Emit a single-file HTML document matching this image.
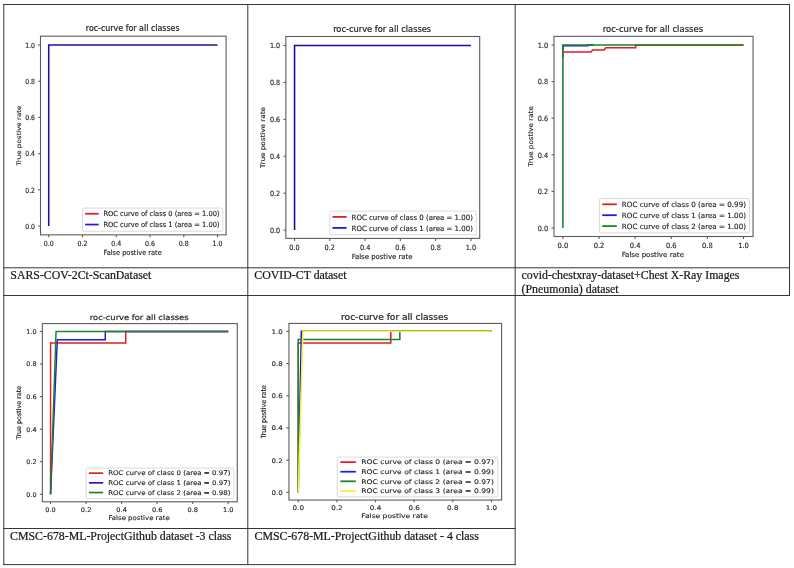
<!DOCTYPE html>
<html lang="en"><head><meta charset="utf-8"><title>roc-curve for all classes</title>
<style>
html,body{margin:0;padding:0;background:#fff;}
body{width:794px;height:568px;overflow:hidden;}
svg{display:block;font-family:"DejaVu Sans","Liberation Sans",sans-serif;}
.cap{font-family:"Liberation Serif","Times New Roman",serif;font-size:11.85px;fill:#181818;stroke:#181818;stroke-width:0.22px;}
</style></head>
<body>
<svg width="794" height="568" viewBox="0 0 794 568">
<defs><filter id="soft" x="0" y="0" width="794" height="568" filterUnits="userSpaceOnUse"><feGaussianBlur stdDeviation="0.4"/></filter></defs>
<rect width="794" height="568" fill="#ffffff"/>
<g filter="url(#soft)">
<g>
<polyline points="48.7,226.1 48.7,45 217.5,45" fill="none" stroke="#180ea6" stroke-width="1.51" stroke-linejoin="miter" stroke-linecap="butt"/>
<rect x="82.51" y="208.09" width="140.28" height="23.14" rx="1.32" ry="1.42" fill="#fff" fill-opacity="0.8" stroke="#cccccc" stroke-width="0.7"/>
<line x1="85.16" y1="213.77" x2="98.72" y2="213.77" stroke="#e41c24" stroke-width="1.74"/>
<text transform="translate(103.42 216.32) scale(0.6696 0.7099)" font-size="10" text-anchor="start" fill="#242424" stroke="#242424" stroke-width="0.2">ROC curve of class 0 (area = 1.00)</text>
<line x1="85.16" y1="224.56" x2="98.72" y2="224.56" stroke="#1c1ce6" stroke-width="1.74"/>
<text transform="translate(103.42 227.11) scale(0.6696 0.7099)" font-size="10" text-anchor="start" fill="#242424" stroke="#242424" stroke-width="0.2">ROC curve of class 1 (area = 1.00)</text>
<rect x="40.5" y="36.2" width="185.6" height="198.65" fill="none" stroke="#5c5c5c" stroke-width="1.1"/>
<line x1="48.7" y1="234.85" x2="48.7" y2="237.33" stroke="#5c5c5c" stroke-width="1.1"/>
<text transform="translate(48.7 245.78) scale(0.6286 0.7099)" font-size="10" text-anchor="middle" fill="#242424" stroke="#242424" stroke-width="0.2">0.0</text>
<line x1="38.18" y1="226.1" x2="40.5" y2="226.1" stroke="#5c5c5c" stroke-width="1.1"/>
<text transform="translate(35.01 228.8) scale(0.6154 0.7099)" font-size="10" text-anchor="end" fill="#242424" stroke="#242424" stroke-width="0.2">0.0</text>
<line x1="82.46" y1="234.85" x2="82.46" y2="237.33" stroke="#5c5c5c" stroke-width="1.1"/>
<text transform="translate(82.46 245.78) scale(0.6286 0.7099)" font-size="10" text-anchor="middle" fill="#242424" stroke="#242424" stroke-width="0.2">0.2</text>
<line x1="38.18" y1="189.88" x2="40.5" y2="189.88" stroke="#5c5c5c" stroke-width="1.1"/>
<text transform="translate(35.01 192.58) scale(0.6154 0.7099)" font-size="10" text-anchor="end" fill="#242424" stroke="#242424" stroke-width="0.2">0.2</text>
<line x1="116.22" y1="234.85" x2="116.22" y2="237.33" stroke="#5c5c5c" stroke-width="1.1"/>
<text transform="translate(116.22 245.78) scale(0.6286 0.7099)" font-size="10" text-anchor="middle" fill="#242424" stroke="#242424" stroke-width="0.2">0.4</text>
<line x1="38.18" y1="153.66" x2="40.5" y2="153.66" stroke="#5c5c5c" stroke-width="1.1"/>
<text transform="translate(35.01 156.36) scale(0.6154 0.7099)" font-size="10" text-anchor="end" fill="#242424" stroke="#242424" stroke-width="0.2">0.4</text>
<line x1="149.98" y1="234.85" x2="149.98" y2="237.33" stroke="#5c5c5c" stroke-width="1.1"/>
<text transform="translate(149.98 245.78) scale(0.6286 0.7099)" font-size="10" text-anchor="middle" fill="#242424" stroke="#242424" stroke-width="0.2">0.6</text>
<line x1="38.18" y1="117.44" x2="40.5" y2="117.44" stroke="#5c5c5c" stroke-width="1.1"/>
<text transform="translate(35.01 120.14) scale(0.6154 0.7099)" font-size="10" text-anchor="end" fill="#242424" stroke="#242424" stroke-width="0.2">0.6</text>
<line x1="183.74" y1="234.85" x2="183.74" y2="237.33" stroke="#5c5c5c" stroke-width="1.1"/>
<text transform="translate(183.74 245.78) scale(0.6286 0.7099)" font-size="10" text-anchor="middle" fill="#242424" stroke="#242424" stroke-width="0.2">0.8</text>
<line x1="38.18" y1="81.22" x2="40.5" y2="81.22" stroke="#5c5c5c" stroke-width="1.1"/>
<text transform="translate(35.01 83.92) scale(0.6154 0.7099)" font-size="10" text-anchor="end" fill="#242424" stroke="#242424" stroke-width="0.2">0.8</text>
<line x1="217.5" y1="234.85" x2="217.5" y2="237.33" stroke="#5c5c5c" stroke-width="1.1"/>
<text transform="translate(217.5 245.78) scale(0.6286 0.7099)" font-size="10" text-anchor="middle" fill="#242424" stroke="#242424" stroke-width="0.2">1.0</text>
<line x1="38.18" y1="45" x2="40.5" y2="45" stroke="#5c5c5c" stroke-width="1.1"/>
<text transform="translate(35.01 47.7) scale(0.6154 0.7099)" font-size="10" text-anchor="end" fill="#242424" stroke="#242424" stroke-width="0.2">1.0</text>
<text transform="translate(132.7 31.44) scale(0.6617 0.7099)" font-size="12" text-anchor="middle" fill="#242424" stroke="#242424" stroke-width="0.3">roc-curve for all classes</text>
<text transform="translate(132.6 255.15) scale(0.6617 0.7099)" font-size="10" text-anchor="middle" fill="#242424" stroke="#242424" stroke-width="0.2">False postive rate</text>
<text transform="translate(20.52 135.53) scale(0.6088 0.7099) rotate(-90)" font-size="10" text-anchor="middle" fill="#242424" stroke="#242424" stroke-width="0.2">True postive rate</text>
</g>
<g>
<polyline points="294.55,230.1 294.55,45.5 470.9,45.5" fill="none" stroke="#180ea6" stroke-width="1.56" stroke-linejoin="miter" stroke-linecap="butt"/>
<rect x="329.69" y="211.12" width="146.55" height="23.59" rx="1.38" ry="1.45" fill="#fff" fill-opacity="0.8" stroke="#cccccc" stroke-width="0.7"/>
<line x1="332.45" y1="216.91" x2="346.63" y2="216.91" stroke="#e41c24" stroke-width="1.79"/>
<text transform="translate(351.53 219.51) scale(0.6996 0.7236)" font-size="10" text-anchor="start" fill="#242424" stroke="#242424" stroke-width="0.2">ROC curve of class 0 (area = 1.00)</text>
<line x1="332.45" y1="227.91" x2="346.63" y2="227.91" stroke="#1c1ce6" stroke-width="1.79"/>
<text transform="translate(351.53 230.51) scale(0.6996 0.7236)" font-size="10" text-anchor="start" fill="#242424" stroke="#242424" stroke-width="0.2">ROC curve of class 1 (area = 1.00)</text>
<rect x="285.85" y="36.5" width="193.85" height="201.9" fill="none" stroke="#5c5c5c" stroke-width="1.1"/>
<line x1="294.55" y1="238.4" x2="294.55" y2="240.93" stroke="#5c5c5c" stroke-width="1.1"/>
<text transform="translate(294.55 249.54) scale(0.6567 0.7236)" font-size="10" text-anchor="middle" fill="#242424" stroke="#242424" stroke-width="0.2">0.0</text>
<line x1="283.43" y1="230.1" x2="285.85" y2="230.1" stroke="#5c5c5c" stroke-width="1.1"/>
<text transform="translate(280.11 232.85) scale(0.6429 0.7236)" font-size="10" text-anchor="end" fill="#242424" stroke="#242424" stroke-width="0.2">0.0</text>
<line x1="329.82" y1="238.4" x2="329.82" y2="240.93" stroke="#5c5c5c" stroke-width="1.1"/>
<text transform="translate(329.82 249.54) scale(0.6567 0.7236)" font-size="10" text-anchor="middle" fill="#242424" stroke="#242424" stroke-width="0.2">0.2</text>
<line x1="283.43" y1="193.18" x2="285.85" y2="193.18" stroke="#5c5c5c" stroke-width="1.1"/>
<text transform="translate(280.11 195.93) scale(0.6429 0.7236)" font-size="10" text-anchor="end" fill="#242424" stroke="#242424" stroke-width="0.2">0.2</text>
<line x1="365.09" y1="238.4" x2="365.09" y2="240.93" stroke="#5c5c5c" stroke-width="1.1"/>
<text transform="translate(365.09 249.54) scale(0.6567 0.7236)" font-size="10" text-anchor="middle" fill="#242424" stroke="#242424" stroke-width="0.2">0.4</text>
<line x1="283.43" y1="156.26" x2="285.85" y2="156.26" stroke="#5c5c5c" stroke-width="1.1"/>
<text transform="translate(280.11 159.01) scale(0.6429 0.7236)" font-size="10" text-anchor="end" fill="#242424" stroke="#242424" stroke-width="0.2">0.4</text>
<line x1="400.36" y1="238.4" x2="400.36" y2="240.93" stroke="#5c5c5c" stroke-width="1.1"/>
<text transform="translate(400.36 249.54) scale(0.6567 0.7236)" font-size="10" text-anchor="middle" fill="#242424" stroke="#242424" stroke-width="0.2">0.6</text>
<line x1="283.43" y1="119.34" x2="285.85" y2="119.34" stroke="#5c5c5c" stroke-width="1.1"/>
<text transform="translate(280.11 122.09) scale(0.6429 0.7236)" font-size="10" text-anchor="end" fill="#242424" stroke="#242424" stroke-width="0.2">0.6</text>
<line x1="435.63" y1="238.4" x2="435.63" y2="240.93" stroke="#5c5c5c" stroke-width="1.1"/>
<text transform="translate(435.63 249.54) scale(0.6567 0.7236)" font-size="10" text-anchor="middle" fill="#242424" stroke="#242424" stroke-width="0.2">0.8</text>
<line x1="283.43" y1="82.42" x2="285.85" y2="82.42" stroke="#5c5c5c" stroke-width="1.1"/>
<text transform="translate(280.11 85.17) scale(0.6429 0.7236)" font-size="10" text-anchor="end" fill="#242424" stroke="#242424" stroke-width="0.2">0.8</text>
<line x1="470.9" y1="238.4" x2="470.9" y2="240.93" stroke="#5c5c5c" stroke-width="1.1"/>
<text transform="translate(470.9 249.54) scale(0.6567 0.7236)" font-size="10" text-anchor="middle" fill="#242424" stroke="#242424" stroke-width="0.2">1.0</text>
<line x1="283.43" y1="45.5" x2="285.85" y2="45.5" stroke="#5c5c5c" stroke-width="1.1"/>
<text transform="translate(280.11 48.25) scale(0.6429 0.7236)" font-size="10" text-anchor="end" fill="#242424" stroke="#242424" stroke-width="0.2">1.0</text>
<text transform="translate(382.17 31.65) scale(0.6913 0.7236)" font-size="12" text-anchor="middle" fill="#242424" stroke="#242424" stroke-width="0.3">roc-curve for all classes</text>
<text transform="translate(382.07 259.1) scale(0.6913 0.7236)" font-size="10" text-anchor="middle" fill="#242424" stroke="#242424" stroke-width="0.2">False postive rate</text>
<text transform="translate(264.97 137.45) scale(0.6360 0.7236) rotate(-90)" font-size="10" text-anchor="middle" fill="#242424" stroke="#242424" stroke-width="0.2">True postive rate</text>
</g>
<g>
<polyline points="562.9,57.81 562.9,51.95 590.89,51.95 592.7,49.94 604.08,49.94 605.88,47.74 635.68,47.74 635.68,45 743.5,45" fill="none" stroke="#e41c24" stroke-width="1.57" stroke-linejoin="miter" stroke-linecap="butt"/>
<polyline points="562.9,50.49 562.9,45.73 587.82,45.73 587.82,45 593.6,45" fill="none" stroke="#1c1ce6" stroke-width="1.57" stroke-linejoin="miter" stroke-linecap="butt"/>
<polyline points="562.9,227.95 562.9,45 743.5,45" fill="none" stroke="#1a8428" stroke-width="1.57" stroke-linejoin="miter" stroke-linecap="butt"/>
<rect x="599.42" y="198.56" width="150.09" height="34.28" rx="1.42" ry="1.43" fill="#fff" fill-opacity="0.8" stroke="#cccccc" stroke-width="0.7"/>
<line x1="602.26" y1="204.3" x2="616.77" y2="204.3" stroke="#e41c24" stroke-width="1.80"/>
<text transform="translate(621.8 206.88) scale(0.7164 0.7172)" font-size="10" text-anchor="start" fill="#242424" stroke="#242424" stroke-width="0.2">ROC curve of class 0 (area = 0.99)</text>
<line x1="602.26" y1="215.2" x2="616.77" y2="215.2" stroke="#1c1ce6" stroke-width="1.80"/>
<text transform="translate(621.8 217.78) scale(0.7164 0.7172)" font-size="10" text-anchor="start" fill="#242424" stroke="#242424" stroke-width="0.2">ROC curve of class 1 (area = 1.00)</text>
<line x1="602.26" y1="226.1" x2="616.77" y2="226.1" stroke="#1a8428" stroke-width="1.80"/>
<text transform="translate(621.8 228.68) scale(0.7164 0.7172)" font-size="10" text-anchor="start" fill="#242424" stroke="#242424" stroke-width="0.2">ROC curve of class 2 (area = 1.00)</text>
<rect x="554" y="36.35" width="199.05" height="200.15" fill="none" stroke="#5c5c5c" stroke-width="1.1"/>
<line x1="562.9" y1="236.5" x2="562.9" y2="239.01" stroke="#5c5c5c" stroke-width="1.1"/>
<text transform="translate(562.9 247.54) scale(0.6726 0.7172)" font-size="10" text-anchor="middle" fill="#242424" stroke="#242424" stroke-width="0.2">0.0</text>
<line x1="551.52" y1="227.95" x2="554" y2="227.95" stroke="#5c5c5c" stroke-width="1.1"/>
<text transform="translate(548.12 230.68) scale(0.6584 0.7172)" font-size="10" text-anchor="end" fill="#242424" stroke="#242424" stroke-width="0.2">0.0</text>
<line x1="599.02" y1="236.5" x2="599.02" y2="239.01" stroke="#5c5c5c" stroke-width="1.1"/>
<text transform="translate(599.02 247.54) scale(0.6726 0.7172)" font-size="10" text-anchor="middle" fill="#242424" stroke="#242424" stroke-width="0.2">0.2</text>
<line x1="551.52" y1="191.36" x2="554" y2="191.36" stroke="#5c5c5c" stroke-width="1.1"/>
<text transform="translate(548.12 194.09) scale(0.6584 0.7172)" font-size="10" text-anchor="end" fill="#242424" stroke="#242424" stroke-width="0.2">0.2</text>
<line x1="635.14" y1="236.5" x2="635.14" y2="239.01" stroke="#5c5c5c" stroke-width="1.1"/>
<text transform="translate(635.14 247.54) scale(0.6726 0.7172)" font-size="10" text-anchor="middle" fill="#242424" stroke="#242424" stroke-width="0.2">0.4</text>
<line x1="551.52" y1="154.77" x2="554" y2="154.77" stroke="#5c5c5c" stroke-width="1.1"/>
<text transform="translate(548.12 157.5) scale(0.6584 0.7172)" font-size="10" text-anchor="end" fill="#242424" stroke="#242424" stroke-width="0.2">0.4</text>
<line x1="671.26" y1="236.5" x2="671.26" y2="239.01" stroke="#5c5c5c" stroke-width="1.1"/>
<text transform="translate(671.26 247.54) scale(0.6726 0.7172)" font-size="10" text-anchor="middle" fill="#242424" stroke="#242424" stroke-width="0.2">0.6</text>
<line x1="551.52" y1="118.18" x2="554" y2="118.18" stroke="#5c5c5c" stroke-width="1.1"/>
<text transform="translate(548.12 120.91) scale(0.6584 0.7172)" font-size="10" text-anchor="end" fill="#242424" stroke="#242424" stroke-width="0.2">0.6</text>
<line x1="707.38" y1="236.5" x2="707.38" y2="239.01" stroke="#5c5c5c" stroke-width="1.1"/>
<text transform="translate(707.38 247.54) scale(0.6726 0.7172)" font-size="10" text-anchor="middle" fill="#242424" stroke="#242424" stroke-width="0.2">0.8</text>
<line x1="551.52" y1="81.59" x2="554" y2="81.59" stroke="#5c5c5c" stroke-width="1.1"/>
<text transform="translate(548.12 84.32) scale(0.6584 0.7172)" font-size="10" text-anchor="end" fill="#242424" stroke="#242424" stroke-width="0.2">0.8</text>
<line x1="743.5" y1="236.5" x2="743.5" y2="239.01" stroke="#5c5c5c" stroke-width="1.1"/>
<text transform="translate(743.5 247.54) scale(0.6726 0.7172)" font-size="10" text-anchor="middle" fill="#242424" stroke="#242424" stroke-width="0.2">1.0</text>
<line x1="551.52" y1="45" x2="554" y2="45" stroke="#5c5c5c" stroke-width="1.1"/>
<text transform="translate(548.12 47.73) scale(0.6584 0.7172)" font-size="10" text-anchor="end" fill="#242424" stroke="#242424" stroke-width="0.2">1.0</text>
<text transform="translate(652.92 31.55) scale(0.7080 0.7172)" font-size="12" text-anchor="middle" fill="#242424" stroke="#242424" stroke-width="0.3">roc-curve for all classes</text>
<text transform="translate(652.82 257.01) scale(0.7080 0.7172)" font-size="10" text-anchor="middle" fill="#242424" stroke="#242424" stroke-width="0.2">False postive rate</text>
<text transform="translate(532.62 136.43) scale(0.6513 0.7172) rotate(-90)" font-size="10" text-anchor="middle" fill="#242424" stroke="#242424" stroke-width="0.2">True postive rate</text>
</g>
<g>
<polyline points="50.55,494.3 50.55,343.06 125.7,343.06 125.7,331.5 228.2,331.5" fill="none" stroke="#e41c24" stroke-width="1.47" stroke-linejoin="miter" stroke-linecap="butt"/>
<polyline points="50.55,494.3 57.3,339.8 105.27,339.8 105.27,331.5 228.2,331.5" fill="none" stroke="#1c1ce6" stroke-width="1.47" stroke-linejoin="miter" stroke-linecap="butt"/>
<polyline points="50.55,494.3 56.06,331.5 228.2,331.5" fill="none" stroke="#1a8428" stroke-width="1.47" stroke-linejoin="miter" stroke-linecap="butt"/>
<rect x="86.13" y="468.04" width="147.63" height="30.5" rx="1.39" ry="1.28" fill="#fff" fill-opacity="0.8" stroke="#cccccc" stroke-width="0.7"/>
<line x1="88.92" y1="473.15" x2="103.2" y2="473.15" stroke="#e41c24" stroke-width="1.69"/>
<text transform="translate(108.14 475.44) scale(0.7047 0.6382)" font-size="10" text-anchor="start" fill="#242424" stroke="#242424" stroke-width="0.2">ROC curve of class 0 (area = 0.97)</text>
<line x1="88.92" y1="482.85" x2="103.2" y2="482.85" stroke="#1c1ce6" stroke-width="1.69"/>
<text transform="translate(108.14 485.14) scale(0.7047 0.6382)" font-size="10" text-anchor="start" fill="#242424" stroke="#242424" stroke-width="0.2">ROC curve of class 1 (area = 0.97)</text>
<line x1="88.92" y1="492.55" x2="103.2" y2="492.55" stroke="#1a8428" stroke-width="1.69"/>
<text transform="translate(108.14 494.84) scale(0.7047 0.6382)" font-size="10" text-anchor="start" fill="#242424" stroke="#242424" stroke-width="0.2">ROC curve of class 2 (area = 0.98)</text>
<rect x="42.35" y="323.6" width="194.9" height="178.2" fill="none" stroke="#5c5c5c" stroke-width="1.1"/>
<line x1="50.55" y1="501.8" x2="50.55" y2="504.03" stroke="#5c5c5c" stroke-width="1.1"/>
<text transform="translate(50.55 511.63) scale(0.6616 0.6382)" font-size="10" text-anchor="middle" fill="#242424" stroke="#242424" stroke-width="0.2">0.0</text>
<line x1="39.91" y1="494.3" x2="42.35" y2="494.3" stroke="#5c5c5c" stroke-width="1.1"/>
<text transform="translate(36.57 496.73) scale(0.6476 0.6382)" font-size="10" text-anchor="end" fill="#242424" stroke="#242424" stroke-width="0.2">0.0</text>
<line x1="86.08" y1="501.8" x2="86.08" y2="504.03" stroke="#5c5c5c" stroke-width="1.1"/>
<text transform="translate(86.08 511.63) scale(0.6616 0.6382)" font-size="10" text-anchor="middle" fill="#242424" stroke="#242424" stroke-width="0.2">0.2</text>
<line x1="39.91" y1="461.74" x2="42.35" y2="461.74" stroke="#5c5c5c" stroke-width="1.1"/>
<text transform="translate(36.57 464.17) scale(0.6476 0.6382)" font-size="10" text-anchor="end" fill="#242424" stroke="#242424" stroke-width="0.2">0.2</text>
<line x1="121.61" y1="501.8" x2="121.61" y2="504.03" stroke="#5c5c5c" stroke-width="1.1"/>
<text transform="translate(121.61 511.63) scale(0.6616 0.6382)" font-size="10" text-anchor="middle" fill="#242424" stroke="#242424" stroke-width="0.2">0.4</text>
<line x1="39.91" y1="429.18" x2="42.35" y2="429.18" stroke="#5c5c5c" stroke-width="1.1"/>
<text transform="translate(36.57 431.61) scale(0.6476 0.6382)" font-size="10" text-anchor="end" fill="#242424" stroke="#242424" stroke-width="0.2">0.4</text>
<line x1="157.14" y1="501.8" x2="157.14" y2="504.03" stroke="#5c5c5c" stroke-width="1.1"/>
<text transform="translate(157.14 511.63) scale(0.6616 0.6382)" font-size="10" text-anchor="middle" fill="#242424" stroke="#242424" stroke-width="0.2">0.6</text>
<line x1="39.91" y1="396.62" x2="42.35" y2="396.62" stroke="#5c5c5c" stroke-width="1.1"/>
<text transform="translate(36.57 399.05) scale(0.6476 0.6382)" font-size="10" text-anchor="end" fill="#242424" stroke="#242424" stroke-width="0.2">0.6</text>
<line x1="192.67" y1="501.8" x2="192.67" y2="504.03" stroke="#5c5c5c" stroke-width="1.1"/>
<text transform="translate(192.67 511.63) scale(0.6616 0.6382)" font-size="10" text-anchor="middle" fill="#242424" stroke="#242424" stroke-width="0.2">0.8</text>
<line x1="39.91" y1="364.06" x2="42.35" y2="364.06" stroke="#5c5c5c" stroke-width="1.1"/>
<text transform="translate(36.57 366.49) scale(0.6476 0.6382)" font-size="10" text-anchor="end" fill="#242424" stroke="#242424" stroke-width="0.2">0.8</text>
<line x1="228.2" y1="501.8" x2="228.2" y2="504.03" stroke="#5c5c5c" stroke-width="1.1"/>
<text transform="translate(228.2 511.63) scale(0.6616 0.6382)" font-size="10" text-anchor="middle" fill="#242424" stroke="#242424" stroke-width="0.2">1.0</text>
<line x1="39.91" y1="331.5" x2="42.35" y2="331.5" stroke="#5c5c5c" stroke-width="1.1"/>
<text transform="translate(36.57 333.93) scale(0.6476 0.6382)" font-size="10" text-anchor="end" fill="#242424" stroke="#242424" stroke-width="0.2">1.0</text>
<text transform="translate(139.2 319.52) scale(0.6964 0.6254)" font-size="12" text-anchor="middle" fill="#242424" stroke="#242424" stroke-width="0.3">roc-curve for all classes</text>
<text transform="translate(139.1 520.05) scale(0.6964 0.6382)" font-size="10" text-anchor="middle" fill="#242424" stroke="#242424" stroke-width="0.2">False postive rate</text>
<text transform="translate(20.62 412.7) scale(0.6407 0.6382) rotate(-90)" font-size="10" text-anchor="middle" fill="#242424" stroke="#242424" stroke-width="0.2">True postive rate</text>
</g>
<g>
<polyline points="298.25,492.3 298.25,342.94 390.77,342.94 390.77,331.35 491.4,331.35" fill="none" stroke="#e41c24" stroke-width="1.53" stroke-linejoin="miter" stroke-linecap="butt"/>
<polyline points="298.25,492.3 301.34,331.35 491.4,331.35" fill="none" stroke="#1c1ce6" stroke-width="1.53" stroke-linejoin="miter" stroke-linecap="butt"/>
<polyline points="298.25,492.3 298.25,339.4 399.85,339.4 399.85,331.35 491.4,331.35" fill="none" stroke="#1a8428" stroke-width="1.53" stroke-linejoin="miter" stroke-linecap="butt"/>
<polyline points="298.25,492.3 302.89,331.35 491.4,331.35" fill="none" stroke="#f4f430" stroke-width="1.53" stroke-linejoin="miter" stroke-linecap="butt"/>
<rect x="337.3" y="457.08" width="160.52" height="39.75" rx="1.51" ry="1.26" fill="#fff" fill-opacity="0.8" stroke="#cccccc" stroke-width="0.7"/>
<line x1="340.33" y1="462.13" x2="355.85" y2="462.13" stroke="#e41c24" stroke-width="1.76"/>
<text transform="translate(361.22 464.4) scale(0.7662 0.6309)" font-size="10" text-anchor="start" fill="#242424" stroke="#242424" stroke-width="0.2">ROC curve of class 0 (area = 0.97)</text>
<line x1="340.33" y1="471.72" x2="355.85" y2="471.72" stroke="#1c1ce6" stroke-width="1.76"/>
<text transform="translate(361.22 473.99) scale(0.7662 0.6309)" font-size="10" text-anchor="start" fill="#242424" stroke="#242424" stroke-width="0.2">ROC curve of class 1 (area = 0.99)</text>
<line x1="340.33" y1="481.31" x2="355.85" y2="481.31" stroke="#1a8428" stroke-width="1.76"/>
<text transform="translate(361.22 483.58) scale(0.7662 0.6309)" font-size="10" text-anchor="start" fill="#242424" stroke="#242424" stroke-width="0.2">ROC curve of class 2 (area = 0.97)</text>
<line x1="340.33" y1="490.9" x2="355.85" y2="490.9" stroke="#f4f430" stroke-width="1.76"/>
<text transform="translate(361.22 493.17) scale(0.7662 0.6309)" font-size="10" text-anchor="start" fill="#242424" stroke="#242424" stroke-width="0.2">ROC curve of class 3 (area = 0.99)</text>
<rect x="288.95" y="323.45" width="212.65" height="176.6" fill="none" stroke="#5c5c5c" stroke-width="1.1"/>
<line x1="298.25" y1="500.05" x2="298.25" y2="502.26" stroke="#5c5c5c" stroke-width="1.1"/>
<text transform="translate(298.25 509.77) scale(0.7193 0.6309)" font-size="10" text-anchor="middle" fill="#242424" stroke="#242424" stroke-width="0.2">0.0</text>
<line x1="286.3" y1="492.3" x2="288.95" y2="492.3" stroke="#5c5c5c" stroke-width="1.1"/>
<text transform="translate(282.67 494.7) scale(0.7041 0.6309)" font-size="10" text-anchor="end" fill="#242424" stroke="#242424" stroke-width="0.2">0.0</text>
<line x1="336.88" y1="500.05" x2="336.88" y2="502.26" stroke="#5c5c5c" stroke-width="1.1"/>
<text transform="translate(336.88 509.77) scale(0.7193 0.6309)" font-size="10" text-anchor="middle" fill="#242424" stroke="#242424" stroke-width="0.2">0.2</text>
<line x1="286.3" y1="460.11" x2="288.95" y2="460.11" stroke="#5c5c5c" stroke-width="1.1"/>
<text transform="translate(282.67 462.51) scale(0.7041 0.6309)" font-size="10" text-anchor="end" fill="#242424" stroke="#242424" stroke-width="0.2">0.2</text>
<line x1="375.51" y1="500.05" x2="375.51" y2="502.26" stroke="#5c5c5c" stroke-width="1.1"/>
<text transform="translate(375.51 509.77) scale(0.7193 0.6309)" font-size="10" text-anchor="middle" fill="#242424" stroke="#242424" stroke-width="0.2">0.4</text>
<line x1="286.3" y1="427.92" x2="288.95" y2="427.92" stroke="#5c5c5c" stroke-width="1.1"/>
<text transform="translate(282.67 430.32) scale(0.7041 0.6309)" font-size="10" text-anchor="end" fill="#242424" stroke="#242424" stroke-width="0.2">0.4</text>
<line x1="414.14" y1="500.05" x2="414.14" y2="502.26" stroke="#5c5c5c" stroke-width="1.1"/>
<text transform="translate(414.14 509.77) scale(0.7193 0.6309)" font-size="10" text-anchor="middle" fill="#242424" stroke="#242424" stroke-width="0.2">0.6</text>
<line x1="286.3" y1="395.73" x2="288.95" y2="395.73" stroke="#5c5c5c" stroke-width="1.1"/>
<text transform="translate(282.67 398.13) scale(0.7041 0.6309)" font-size="10" text-anchor="end" fill="#242424" stroke="#242424" stroke-width="0.2">0.6</text>
<line x1="452.77" y1="500.05" x2="452.77" y2="502.26" stroke="#5c5c5c" stroke-width="1.1"/>
<text transform="translate(452.77 509.77) scale(0.7193 0.6309)" font-size="10" text-anchor="middle" fill="#242424" stroke="#242424" stroke-width="0.2">0.8</text>
<line x1="286.3" y1="363.54" x2="288.95" y2="363.54" stroke="#5c5c5c" stroke-width="1.1"/>
<text transform="translate(282.67 365.94) scale(0.7041 0.6309)" font-size="10" text-anchor="end" fill="#242424" stroke="#242424" stroke-width="0.2">0.8</text>
<line x1="491.4" y1="500.05" x2="491.4" y2="502.26" stroke="#5c5c5c" stroke-width="1.1"/>
<text transform="translate(491.4 509.77) scale(0.7193 0.6309)" font-size="10" text-anchor="middle" fill="#242424" stroke="#242424" stroke-width="0.2">1.0</text>
<line x1="286.3" y1="331.35" x2="288.95" y2="331.35" stroke="#5c5c5c" stroke-width="1.1"/>
<text transform="translate(282.67 333.75) scale(0.7041 0.6309)" font-size="10" text-anchor="end" fill="#242424" stroke="#242424" stroke-width="0.2">1.0</text>
<text transform="translate(394.67 319.72) scale(0.7571 0.7066)" font-size="12" text-anchor="middle" fill="#242424" stroke="#242424" stroke-width="0.3">roc-curve for all classes</text>
<text transform="translate(394.57 518.09) scale(0.7571 0.6309)" font-size="10" text-anchor="middle" fill="#242424" stroke="#242424" stroke-width="0.2">False postive rate</text>
<text transform="translate(266.08 411.75) scale(0.6966 0.6309) rotate(-90)" font-size="10" text-anchor="middle" fill="#242424" stroke="#242424" stroke-width="0.2">True postive rate</text>
</g>
</g>
<g>
<rect x="3.3" y="4" width="786.7" height="1" fill="#363636"/>
<rect x="3.3" y="267.3" width="786.7" height="1" fill="#363636"/>
<rect x="3.3" y="295" width="786.7" height="1" fill="#363636"/>
<rect x="3.3" y="528" width="512.35" height="1" fill="#363636"/>
<rect x="3.3" y="564.1" width="512.35" height="1" fill="#363636"/>
<rect x="3.3" y="4" width="1" height="561.1" fill="#363636"/>
<rect x="247.3" y="4" width="1" height="561.1" fill="#363636"/>
<rect x="514.65" y="4" width="1" height="561.1" fill="#363636"/>
<rect x="789" y="4" width="1" height="292" fill="#363636"/>
</g>
<g>
<text x="10.3" y="278.9" class="cap">SARS-COV-2Ct-ScanDataset</text>
<text x="254.3" y="278.9" class="cap">COVID-CT dataset</text>
<text x="521.6" y="279.2" class="cap">covid-chestxray-dataset+Chest X-Ray Images</text>
<text x="521.6" y="292.6" class="cap">(Pneumonia) dataset</text>
<text x="10.1" y="540.0" class="cap">CMSC-678-ML-ProjectGithub dataset -3 class</text>
<text x="254.5" y="540.0" class="cap">CMSC-678-ML-ProjectGithub dataset - 4 class</text>
</g>
</svg>
</body></html>
